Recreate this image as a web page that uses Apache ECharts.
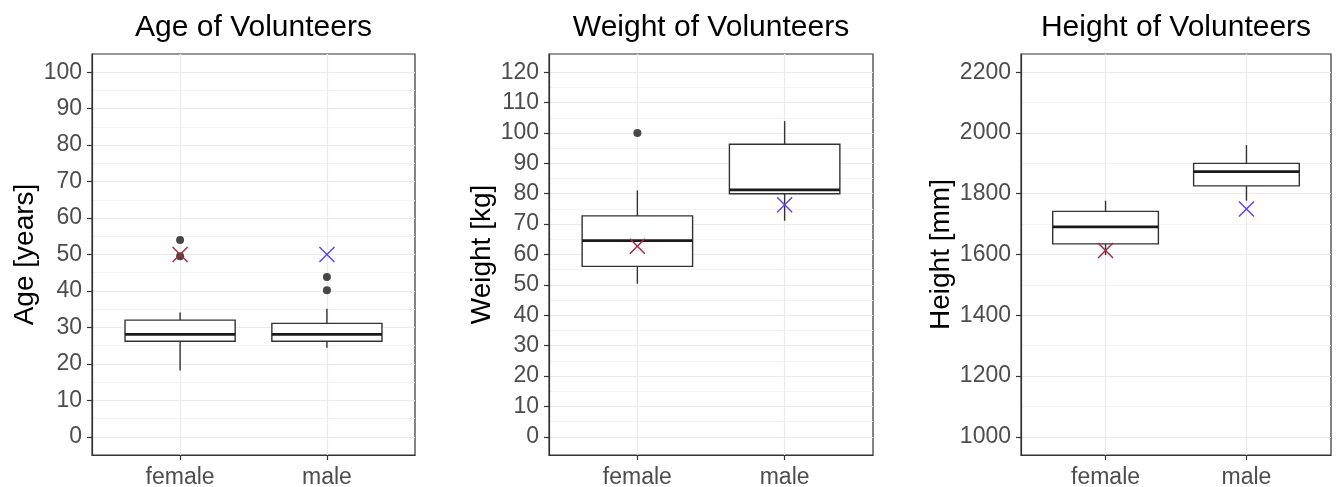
<!DOCTYPE html>
<html>
<head>
<meta charset="utf-8">
<script src="https://cdn.jsdelivr.net/npm/echarts@6/dist/echarts.min.js"></script>
<style>
  html, body { margin: 0; padding: 0; background: #ffffff; }
  #chart { width: 1340px; height: 487px; }
</style>
</head>
<body>
<div id="chart"></div>
<script>
// Groups on the x axis
const groups = ['female', 'male'];

// Box statistics per group: [lower whisker, Q1, median, Q3, upper whisker]
const ageBoxes = [
  [18.2, 26.2, 28.1, 32.0, 34.1],
  [24.4, 26.2, 28.1, 31.1, 35.1]
];
const weightBoxes = [
  [50.4, 56.1, 64.6, 72.7, 81.1],
  [71.1, 80.0, 81.3, 96.3, 103.9]
];
const heightBoxes = [
  [1598, 1635, 1691, 1742, 1777],
  [1777, 1826, 1873, 1900, 1960]
];

// Outliers: [group number (1 = female, 2 = male), value]
const ageOutliers = [[1, 54.0], [1, 49.5], [2, 43.8], [2, 40.2]];
const weightOutliers = [[1, 100.0]];
const heightOutliers = [];

// Reference values per group, drawn as crosses
const ageMeans = [50.0, 50.0];
const weightMeans = [62.7, 76.4];
const heightMeans = [1613, 1750];

// Tick labels and minor grid positions
const ageTicks = [0, 10, 20, 30, 40, 50, 60, 70, 80, 90, 100];
const ageMinor = [5, 15, 25, 35, 45, 55, 65, 75, 85, 95];
const weightTicks = [0, 10, 20, 30, 40, 50, 60, 70, 80, 90, 100, 110, 120];
const weightMinor = [5, 15, 25, 35, 45, 55, 65, 75, 85, 95, 105, 115];
const heightTicks = [1000, 1200, 1400, 1600, 1800, 2000, 2200];
const heightMinor = [1100, 1300, 1500, 1700, 1900, 2100];

const FONT = 'Liberation Sans, Arial, sans-serif';
const BOX_WIDTH = 0.75;
const CROSS_COLORS = ['#ab2a3e', '#5b48ee'];

const panels = [
  { title: 'Age of Volunteers', name: 'Age [years]', boxes: ageBoxes, outliers: ageOutliers,
    means: ageMeans, ticks: ageTicks, minor: ageMinor, min: -5, max: 105,
    grid: { left: 92, top: 54, width: 323, height: 401 }, nameGap: 50 },
  { title: 'Weight of Volunteers', name: 'Weight [kg]', boxes: weightBoxes, outliers: weightOutliers,
    means: weightMeans, ticks: weightTicks, minor: weightMinor, min: -6, max: 126,
    grid: { left: 549, top: 54, width: 324, height: 401 }, nameGap: 53 },
  { title: 'Height of Volunteers', name: 'Height [mm]', boxes: heightBoxes, outliers: heightOutliers,
    means: heightMeans, ticks: heightTicks, minor: heightMinor, min: 940, max: 2260,
    grid: { left: 1021, top: 54, width: 310, height: 401 }, nameGap: 66 }
];

function renderBox(params, api) {
  const x = api.value(0);
  const lo = api.coord([x, api.value(1)]);
  const q1 = api.coord([x, api.value(2)]);
  const md = api.coord([x, api.value(3)]);
  const q3 = api.coord([x, api.value(4)]);
  const hi = api.coord([x, api.value(5)]);
  const half = api.size([BOX_WIDTH, 0])[0] / 2;
  const cx = lo[0];
  const stroke = { stroke: '#333333', lineWidth: 1.4 };
  return {
    type: 'group',
    children: [
      { type: 'line', shape: { x1: cx, y1: hi[1], x2: cx, y2: q3[1] }, style: stroke },
      { type: 'line', shape: { x1: cx, y1: q1[1], x2: cx, y2: lo[1] }, style: stroke },
      { type: 'rect', shape: { x: cx - half, y: q3[1], width: half * 2, height: q1[1] - q3[1] },
        style: { fill: '#ffffff', stroke: '#333333', lineWidth: 1.4 } },
      { type: 'line', shape: { x1: cx - half, y1: md[1], x2: cx + half, y2: md[1] },
        style: { stroke: '#1a1a1a', lineWidth: 2.7 } }
    ]
  };
}

function renderCross(params, api) {
  const p = api.coord([api.value(0), api.value(1)]);
  const r = 7.5;
  const style = { stroke: CROSS_COLORS[params.dataIndex], lineWidth: 1.5 };
  return {
    type: 'group',
    children: [
      { type: 'line', shape: { x1: p[0] - r, y1: p[1] - r, x2: p[0] + r, y2: p[1] + r }, style: style },
      { type: 'line', shape: { x1: p[0] - r, y1: p[1] + r, x2: p[0] + r, y2: p[1] - r }, style: style }
    ]
  };
}

const grids = [], xAxes = [], yAxes = [], series = [], titles = [];

panels.forEach((p, i) => {
  grids.push(Object.assign({
    show: true, borderColor: '#333333', borderWidth: 1.2, backgroundColor: 'transparent',
    containLabel: false, outerBoundsMode: 'none'
  }, p.grid));

  titles.push({
    type: 'text',
    style: {
      text: p.title, x: p.grid.left + p.grid.width / 2, y: 28,
      textAlign: 'center', textVerticalAlign: 'middle',
      font: '30px ' + FONT, fill: '#000000'
    }
  });

  const positions = groups.map((g, k) => k + 1);
  xAxes.push({
    type: 'value', gridIndex: i, min: 0.4, max: 2.6, position: 'bottom',
    axisLine: { show: true, onZero: false, lineStyle: { color: '#333333', width: 1.2 } },
    axisTick: { show: true, customValues: positions, length: 5, lineStyle: { color: '#333333', width: 1.2 } },
    axisLabel: { customValues: positions, formatter: v => groups[Math.round(v) - 1], margin: 11,
                 color: '#4d4d4d', fontSize: 23, fontFamily: FONT },
    splitLine: { show: true, lineStyle: { color: '#ebebeb', width: 1.2 } }
  });

  yAxes.push({
    type: 'value', gridIndex: i, min: p.min, max: p.max, position: 'left',
    name: p.name, nameLocation: 'middle', nameGap: p.nameGap, nameRotate: 90,
    nameTextStyle: { color: '#000000', fontSize: 28, fontFamily: FONT },
    axisLine: { show: true, onZero: false, lineStyle: { color: '#333333', width: 1.2 } },
    axisTick: { show: true, customValues: p.ticks, length: 5, lineStyle: { color: '#333333', width: 1.2 } },
    axisLabel: { customValues: p.ticks, formatter: v => String(v), margin: 10,
                 color: '#4d4d4d', fontSize: 23, fontFamily: FONT },
    splitLine: { show: true, lineStyle: { color: '#ebebeb', width: 1.2 } },
    z: 1
  });
  yAxes.push({
    type: 'value', gridIndex: i, min: p.min, max: p.max, position: 'left',
    axisLine: { show: false, onZero: false },
    axisTick: { show: false, customValues: p.minor },
    axisLabel: { show: false, customValues: p.minor },
    splitLine: { show: true, lineStyle: { color: '#f3f3f3', width: 1 } },
    z: 0
  });

  series.push({
    type: 'custom', xAxisIndex: i, yAxisIndex: 2 * i,
    renderItem: renderBox,
    encode: { x: 0, y: [1, 2, 3, 4, 5] },
    data: p.boxes.map((b, k) => [k + 1].concat(b)),
    z: 3, silent: true
  });
  series.push({
    type: 'scatter', xAxisIndex: i, yAxisIndex: 2 * i,
    data: p.outliers, symbol: 'circle', symbolSize: 8,
    itemStyle: { color: '#1a1a1a' }, z: 4, silent: true
  });
  series.push({
    type: 'custom', xAxisIndex: i, yAxisIndex: 2 * i,
    renderItem: renderCross,
    encode: { x: 0, y: 1 },
    data: p.means.map((m, k) => [k + 1, m]),
    z: 5, silent: true
  });
});

const chart = echarts.init(document.getElementById('chart'), null, { renderer: 'canvas' });
chart.setOption({
  animation: false,
  backgroundColor: '#ffffff',
  grid: grids,
  xAxis: xAxes,
  yAxis: yAxes,
  series: series,
  graphic: titles
});
</script>
</body>
</html>
